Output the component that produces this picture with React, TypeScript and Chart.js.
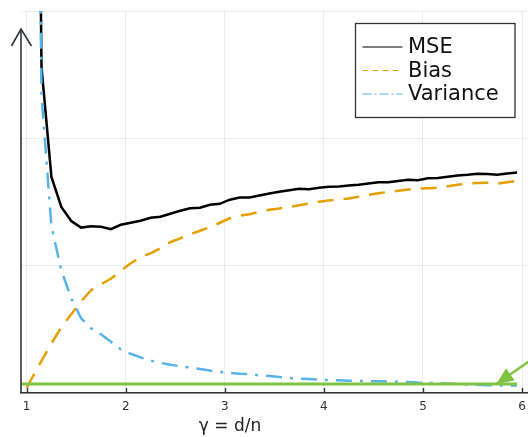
import React, { useEffect, useRef } from "react";
import { Chart, registerables } from "chart.js";

Chart.register(...registerables);

// γ = d/n grid of the simulation
const GAMMA = [
  1.05, 1.15, 1.25, 1.35, 1.45, 1.55, 1.65, 1.75, 1.85, 1.95,
  2.05, 2.15, 2.25, 2.35, 2.45, 2.55, 2.65, 2.75, 2.85, 2.95,
  3.05, 3.15, 3.25, 3.35, 3.45, 3.55, 3.65, 3.75, 3.85, 3.95,
  4.05, 4.15, 4.25, 4.35, 4.45, 4.55, 4.65, 4.75, 4.85, 4.95,
  5.05, 5.15, 5.25, 5.35, 5.45, 5.55, 5.65, 5.75, 5.85, 5.95,
];

const MSE = [
  10.0, 2.559, 1.697, 1.461, 1.351, 1.299, 1.309, 1.306, 1.286, 1.321,
  1.337, 1.353, 1.376, 1.384, 1.408, 1.431, 1.451, 1.455, 1.478, 1.486,
  1.518, 1.535, 1.535, 1.551, 1.566, 1.581, 1.592, 1.604, 1.6, 1.612,
  1.62, 1.621, 1.629, 1.636, 1.645, 1.655, 1.655, 1.665, 1.675, 1.671,
  1.687, 1.688, 1.698, 1.708, 1.714, 1.722, 1.72, 1.714, 1.723, 1.731,
];

const BIAS_GAMMA = [1.0, ...GAMMA];
const BIAS = [
  0.04,
  0.112, 0.253, 0.39, 0.516, 0.618, 0.72, 0.807, 0.854, 0.897, 0.96,
  1.019, 1.066, 1.097, 1.137, 1.184, 1.215, 1.247, 1.274, 1.302, 1.337,
  1.372, 1.392, 1.404, 1.423, 1.439, 1.449, 1.461, 1.474, 1.488, 1.502,
  1.512, 1.522, 1.527, 1.541, 1.557, 1.569, 1.579, 1.588, 1.599, 1.604,
  1.608, 1.612, 1.624, 1.636, 1.645, 1.65, 1.651, 1.645, 1.655, 1.665,
];

const VARIANCE = [
  9.7, 2.339, 1.309, 0.964, 0.744, 0.587, 0.508, 0.461, 0.402, 0.343,
  0.308, 0.28, 0.255, 0.237, 0.222, 0.21, 0.2, 0.189, 0.176, 0.165,
  0.159, 0.152, 0.147, 0.139, 0.133, 0.125, 0.119, 0.113, 0.109, 0.105,
  0.101, 0.1, 0.097, 0.094, 0.093, 0.092, 0.09, 0.088, 0.086, 0.082,
  0.08, 0.077, 0.074, 0.07, 0.066, 0.064, 0.061, 0.06, 0.059, 0.058,
];

// horizontal reference line and the annotation arrow (tail -> tip)
const REF_GAMMA = [0.9, 5.95];
const REF_LEVEL = [0.07, 0.07];
const ARROW_GAMMA = [6.2, 5.741];
const ARROW_LEVEL = [0.32, 0.07];

const X_TICKS = [1, 2, 3, 4, 5, 6];
const X_LABEL = "γ = d/n";
const LEGEND_LABELS = ["MSE", "Bias", "Variance"];

const FONT = "'DejaVu Sans', 'Liberation Sans', sans-serif";
const C_MSE = "#000000";
const C_BIAS = "#E69F00";
const C_VAR = "#56B4E9";
const C_GREEN = "#80C342";
const C_AXIS = "#2f3337";

const pts = (xs: number[], ys: number[]) => xs.map((x, i) => ({ x, y: ys[i] }));

const decor = {
  id: "decor",
  afterDatasetsDraw(chart: any) {
    const { ctx, scales } = chart;
    const xs = scales.x, ys = scales.y;
    // arrow head
    const tx = xs.getPixelForValue(ARROW_GAMMA[1]);
    const ty = ys.getPixelForValue(ARROW_LEVEL[1]);
    const sx = xs.getPixelForValue(ARROW_GAMMA[0]);
    const sy = ys.getPixelForValue(ARROW_LEVEL[0]);
    const len = Math.hypot(sx - tx, sy - ty);
    const ux = (sx - tx) / len, uy = (sy - ty) / len;
    const bx = tx + ux * 17, by = ty + uy * 17;
    const px = -uy, py = ux;
    ctx.save();
    ctx.fillStyle = C_GREEN;
    ctx.beginPath();
    ctx.moveTo(tx, ty);
    ctx.lineTo(bx + px * 7.5, by + py * 7.5);
    ctx.lineTo(bx - px * 7.5, by - py * 7.5);
    ctx.closePath();
    ctx.fill();
    ctx.restore();
  },
  afterDraw(chart: any) {
    const { ctx, chartArea, scales } = chart;
    const xs = scales.x;
    const left = chartArea.left, bottom = chartArea.bottom;
    ctx.save();
    // y axis arrow
    ctx.strokeStyle = C_AXIS;
    ctx.lineWidth = 1.6;
    ctx.beginPath();
    ctx.moveTo(left, bottom);
    ctx.lineTo(left, 29);
    ctx.stroke();
    ctx.beginPath();
    ctx.moveTo(left - 9.5, 46);
    ctx.lineTo(left, 29);
    ctx.lineTo(left + 10.5, 46);
    ctx.stroke();
    // inner tick marks on x axis
    ctx.lineWidth = 1.4;
    for (const t of X_TICKS) {
      const x = Math.round(xs.getPixelForValue(t)) + 0.5;
      ctx.beginPath();
      ctx.moveTo(x, bottom);
      ctx.lineTo(x, bottom - 5);
      ctx.stroke();
    }
    // x axis label
    ctx.fillStyle = "#222";
    ctx.font = `17px ${FONT}`;
    ctx.textAlign = "center";
    ctx.textBaseline = "alphabetic";
    ctx.fillText(X_LABEL, 230, 431);
    // legend
    const bx0 = 355.5, by0 = 23.5, bw = 159.5, bh = 94;
    ctx.fillStyle = "#fff";
    ctx.fillRect(bx0, by0, bw, bh);
    ctx.strokeStyle = C_AXIS;
    ctx.lineWidth = 1.3;
    ctx.strokeRect(bx0, by0, bw, bh);
    const rows = [47, 70.5, 94];
    const colors = [C_MSE, C_BIAS, C_VAR];
    const dashes = [[], [6, 4], [9, 3, 2, 3]];
    ctx.font = `21px ${FONT}`;
    ctx.textAlign = "left";
    ctx.textBaseline = "middle";
    LEGEND_LABELS.forEach((lab, i) => {
      ctx.strokeStyle = colors[i];
      ctx.lineWidth = 1.2;
      ctx.setLineDash(dashes[i]);
      ctx.beginPath();
      ctx.moveTo(362.5, rows[i]);
      ctx.lineTo(402.5, rows[i]);
      ctx.stroke();
      ctx.setLineDash([]);
      ctx.fillStyle = "#111";
      ctx.fillText(lab, 408, rows[i] + 1);
    });
    ctx.restore();
  },
};

export default function App() {
  const ref = useRef<HTMLCanvasElement | null>(null);
  useEffect(() => {
    if (!ref.current) return;
    const chart = new Chart(ref.current, {
      type: "line",
      data: {
        datasets: [
          {
            label: "ref",
            data: pts(REF_GAMMA, REF_LEVEL),
            borderColor: C_GREEN,
            borderWidth: 3,
            pointRadius: 0,
            order: 0,
          },
          {
            label: "arrow",
            data: pts(ARROW_GAMMA, ARROW_LEVEL),
            borderColor: C_GREEN,
            borderWidth: 2.5,
            pointRadius: 0,
            clip: false as any,
            order: 0,
          },
          {
            label: "Variance",
            data: pts(GAMMA, VARIANCE),
            borderColor: C_VAR,
            borderWidth: 2.5,
            borderDash: [16, 8, 3, 8],
            pointRadius: 0,
            order: 1,
          },
          {
            label: "Bias",
            data: pts(BIAS_GAMMA, BIAS),
            borderColor: C_BIAS,
            borderWidth: 2.5,
            borderDash: [16, 10],
            pointRadius: 0,
            order: 2,
          },
          {
            label: "MSE",
            data: pts(GAMMA, MSE),
            borderColor: C_MSE,
            borderWidth: 2.5,
            pointRadius: 0,
            order: 3,
          },
        ],
      },
      options: {
        animation: false,
        responsive: false,
        devicePixelRatio: 1,
        layout: { padding: { top: 11, right: 1, left: 0, bottom: 0 } },
        plugins: {
          legend: { display: false },
          tooltip: { enabled: false },
          title: { display: false },
        },
        elements: { line: { tension: 0 } },
        scales: {
          x: {
            type: "linear",
            min: 0.943,
            max: 6.05,
            afterBuildTicks: (s: any) => {
              s.ticks = X_TICKS.map((v) => ({ value: v }));
            },
            afterFit: (s: any) => {
              s.height = 44;
              s.paddingLeft = 0;
              s.paddingRight = 0;
            },
            grid: { color: "rgba(0,0,0,0.07)", lineWidth: 1, drawTicks: false },
            border: { display: true, color: C_AXIS, width: 1.6 },
            ticks: {
              color: "#333",
              font: { family: FONT, size: 12 },
              padding: 7,
              maxRotation: 0,
              autoSkip: false,
            },
          },
          y: {
            type: "linear",
            min: 0,
            max: 3,
            afterFit: (s: any) => {
              s.width = 21;
              s.paddingTop = 0;
              s.paddingBottom = 0;
            },
            grid: { color: "rgba(0,0,0,0.07)", lineWidth: 1, drawTicks: false },
            border: { display: false },
            ticks: { display: false, stepSize: 1 },
          },
        },
      },
      plugins: [decor],
    });
    return () => chart.destroy();
  }, []);
  return (
    <div style={{ position: "fixed", left: 0, top: 0, width: 528, height: 437, background: "#fff" }}>
      <canvas ref={ref} width={528} height={437} />
    </div>
  );
}
